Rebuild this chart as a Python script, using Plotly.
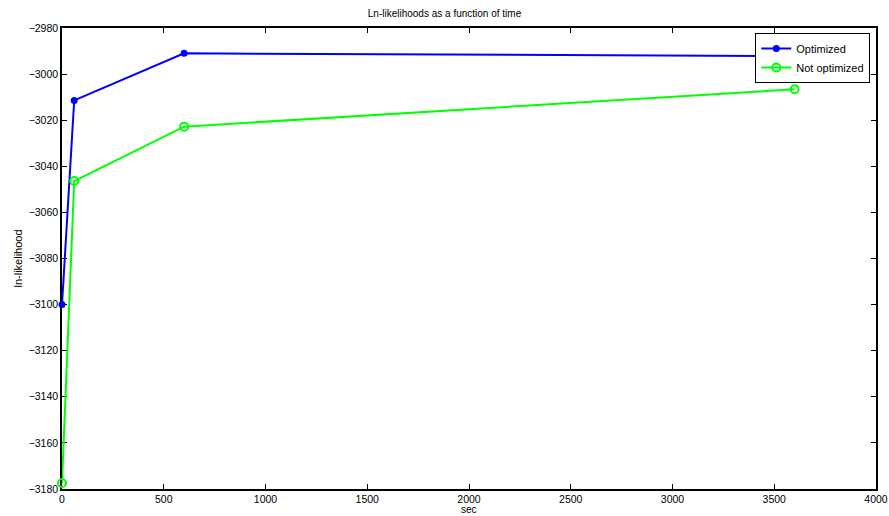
import plotly.graph_objects as go

# Run time in seconds and the resulting log-likelihoods
time_sec = [0, 60, 600, 3600]
ll_optimized = [-3100, -3011.4, -2991.0, -2992.2]
ll_not_optimized = [-3177.4, -3046.4, -3022.8, -3006.6]

x_ticks = [0, 500, 1000, 1500, 2000, 2500, 3000, 3500, 4000]
y_ticks = [-3180, -3160, -3140, -3120, -3100, -3080, -3060, -3040, -3020, -3000, -2980]

font_family = "Liberation Sans, Arial, Helvetica, sans-serif"

fig = go.Figure()
fig.add_trace(go.Scatter(
    x=time_sec, y=ll_optimized, mode="lines+markers", name="Optimized",
    line=dict(color="#0000ff", width=2), cliponaxis=False,
    marker=dict(symbol="circle", size=7, color="#0000ff"),
))
fig.add_trace(go.Scatter(
    x=time_sec, y=ll_not_optimized, mode="lines+markers", name="Not optimized",
    line=dict(color="#00ff00", width=2), cliponaxis=False,
    marker=dict(symbol="circle-open", size=8, color="#00ff00", line=dict(width=2)),
))

axis_common = dict(
    showgrid=False, zeroline=False, showline=True, linecolor="black", linewidth=1.5,
    mirror="ticks", ticks="inside", ticklen=5, tickcolor="black", automargin=False,
    layer="below traces",
    tickfont=dict(family=font_family, size=10.5, color="black"),
)

fig.update_layout(
    width=889, height=516,
    margin=dict(l=62, r=13, t=28, b=27),
    paper_bgcolor="white", plot_bgcolor="white",
    font=dict(family=font_family, size=11, color="black"),
    title=dict(text="Ln-likelihoods as a function of time", x=0.5, xanchor="center",
               y=0.973, yanchor="middle", font=dict(size=10, family=font_family)),
    xaxis=dict(range=[0, 4000], tickvals=x_ticks, **axis_common),
    yaxis=dict(range=[-3180, -2980], tickvals=y_ticks, **axis_common,
               title=dict(text="ln-likelihood", standoff=4, font=dict(size=11))),
    legend=dict(x=0.993, y=0.989, xanchor="right", yanchor="top",
                bgcolor="white", bordercolor="black", borderwidth=1,
                font=dict(size=11, family=font_family),
                tracegroupgap=0, itemwidth=30),
    showlegend=True,
)

# x-axis label placed just below the tick labels
fig.add_annotation(text="sec", xref="paper", yref="paper", x=0.5, y=0,
                   xanchor="center", yanchor="middle", yshift=-20, borderpad=0,
                   showarrow=False, font=dict(size=10, family=font_family))

fig.write_html("out.html")
